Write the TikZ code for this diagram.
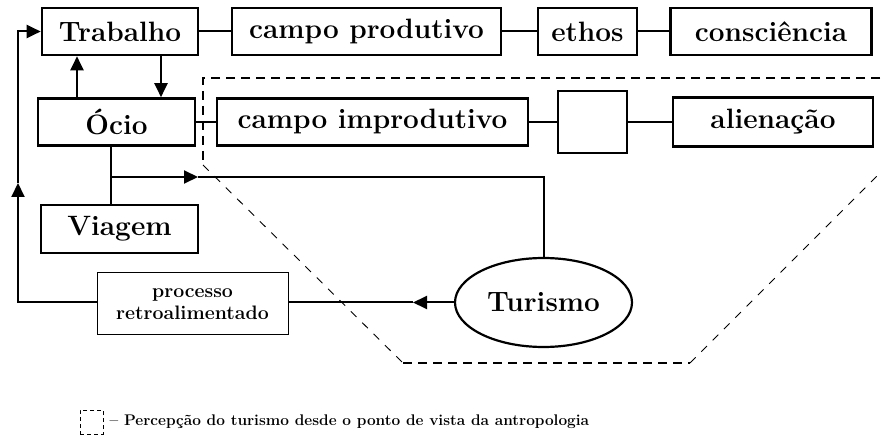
\documentclass[tikz,border=0pt]{standalone}
\usepackage{fontspec}
\usetikzlibrary{shapes,arrows.meta,positioning,calc}

\tikzset{
  box/.style={rectangle, draw, line width=2.6pt, inner sep=0pt, minimum height=47pt, font=\bfseries\fontsize{28}{32}\selectfont},
  retrobox/.style={rectangle, draw, line width=1pt, align=center, inner sep=0pt, font=\bfseries\fontsize{19.5}{22}\selectfont},
  link/.style={line width=2pt},
  tip/.style={link, -{Triangle[length=14pt,width=13pt]}},
  zone/.style={dash pattern=on 9pt off 6pt, line width=1.6pt},
  zonethin/.style={dash pattern=on 8pt off 8pt, line width=0.9pt},
}

\begin{document}
\begin{tikzpicture}[x=1pt, y=-1pt]
\useasboundingbox (0,0) rectangle (881,438);

% top row
\node[box, minimum width=156pt] (trabalho) at (120,31.5) {Trabalho};
\node[box, minimum width=269pt] (produtivo) at (366.5,31.5) {campo produtivo};
\node[box, minimum width=99pt] (ethos) at (587.5,31.5) {ethos};
\node[box, minimum width=201pt] (consciencia) at (771,31.5) {consciência};

% second row
\node[box, minimum width=157pt] (ocio) at (116.5,122) {Ócio};
\node[box, minimum width=311pt] (improdutivo) at (372.5,122) {campo improdutivo};
\node[box, minimum width=69pt, minimum height=62pt] (vazio) at (592.5,122) {};
\node[box, minimum width=200pt, minimum height=49pt] (alienacao) at (773,122) {alienação};

\node[box, minimum width=157pt, minimum height=48pt] (viagem) at (119.5,229) {Viagem};
\node[retrobox, minimum width=191pt, minimum height=62pt] (retro) at (192.5,304) {processo\\retroalimentado};
\node[ellipse, draw, line width=2.2pt, minimum width=177pt, minimum height=89pt, inner sep=0pt,
      font=\bfseries\fontsize{28}{32}\selectfont] (turismo) at (543.5,302.5) {Turismo};

\draw[link] (trabalho) -- (produtivo);
\draw[link] (produtivo) -- (ethos);
\draw[link] (ethos) -- (consciencia);
\draw[link] (ocio) -- (improdutivo);
\draw[link] (improdutivo) -- (vazio);
\draw[link] (vazio) -- (alienacao);

% trabalho <-> ocio
\coordinate (upx) at (77,0);
\coordinate (downx) at (161,0);
\draw[tip] (upx |- ocio.north) -- (upx |- trabalho.south);
\draw[tip] (downx |- trabalho.south) -- (downx |- ocio.north);

% ocio -> viagem / turismo
\coordinate (ocjoin) at (111,177);
\coordinate (ocmid) at (198,177);
\draw[link] (ocjoin |- ocio.south) -- (ocjoin |- viagem.north);
\draw[tip] (ocjoin) -- (ocmid);
\draw[link] (ocmid) -| (turismo.north);

% feedback
\coordinate (tumid) at (413,302.5);
\coordinate (fbmid) at (18,183);
\draw[tip] (turismo.west) -- (tumid);
\draw[link] (tumid) -- (retro.east |- tumid);
\draw[tip] (retro.west |- tumid) -| (fbmid);
\draw[tip] (fbmid) |- (trabalho.west);

% zone
\draw[zone] (880,78) -- (203,78) -- (203,165);
\draw[zonethin] (203,165) -- (403,363);
\draw[zone] (403,363) -- (690,363);
\draw[zonethin] (690,363) -- (880,173);

% legend
\node[draw, dash pattern=on 4pt off 3pt, line width=0.9pt, minimum width=23pt, minimum height=24pt, inner sep=0pt] (legenda) at (91.5,422) {};
\node[right=6pt of legenda, inner sep=0pt, font=\bfseries\fontsize{15.4}{18}\selectfont] (legtexto) {-- Percepção do turismo desde o ponto de vista da antropologia};
\end{tikzpicture}
\end{document}
